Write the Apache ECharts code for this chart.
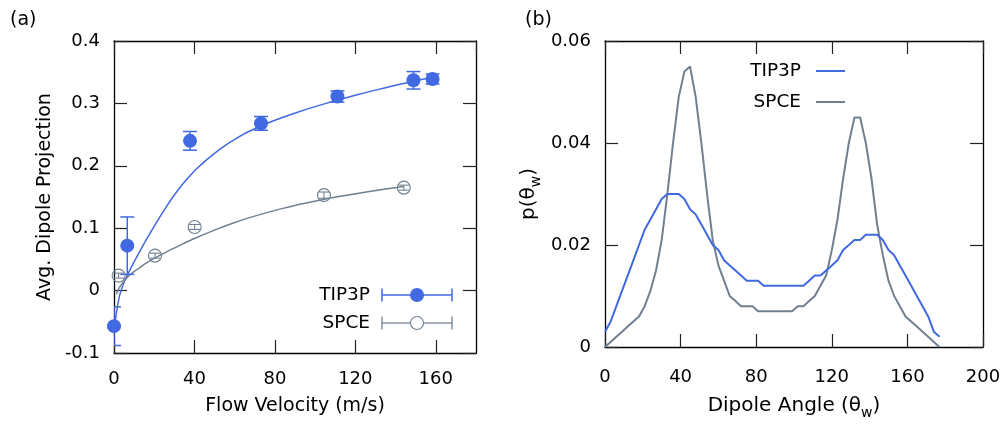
<!DOCTYPE html>
<html>
<head>
<meta charset="utf-8">
<script src="https://cdn.jsdelivr.net/npm/echarts@6/dist/echarts.min.js"></script>
<style>
  html, body { margin: 0; padding: 0; background: #fff; }
  #chart { width: 1005px; height: 424px; }
</style>
</head>
<body>
<div id="chart"></div>
<script>
// (a) average dipole projection vs. flow velocity, with error bars
const tip3pVelocity = [0, 6.6, 37.8, 73.1, 111.1, 148.9, 158.4];
const tip3pProjection = [-0.057, 0.072, 0.240, 0.268, 0.311, 0.337, 0.339];
const tip3pError = [0.031, 0.046, 0.015, 0.011, 0.009, 0.014, 0.008];

const spceVelocity = [2.3, 20.4, 40.1, 104.4, 144.1];
const spceProjection = [0.024, 0.056, 0.102, 0.153, 0.165];
const spceError = [0.004, 0.004, 0.004, 0.005, 0.004];

// fitted trend curves
const tip3pFitX = [0.6, 1, 2, 3, 4.5, 6, 8, 10, 12, 15, 18, 22, 26, 30, 34, 38, 42, 46, 50, 55, 60, 67, 75, 83, 92, 100, 110, 120, 130, 140, 149, 158];
const tip3pFitY = [-0.050, -0.040, -0.020, -0.005, 0.009, 0.0205, 0.0337, 0.0461, 0.0581, 0.0755, 0.0923, 0.1139, 0.1343, 0.1532, 0.1700, 0.1848, 0.1980, 0.2096, 0.2200, 0.2318, 0.2423, 0.2549, 0.2665, 0.2765, 0.2866, 0.2948, 0.3043, 0.3131, 0.3213, 0.3290, 0.3355, 0.3416];
const spceFitX = [1.2, 2, 3.7, 6, 7.8, 12, 16, 20.2, 27.6, 34, 40, 50, 59, 67, 76, 84, 92, 104.6, 115, 127, 135, 144];
const spceFitY = [-0.006, 0.001, 0.010, 0.019, 0.025, 0.035, 0.044, 0.052, 0.0645, 0.0745, 0.0835, 0.097, 0.108, 0.1165, 0.1250, 0.1318, 0.1380, 0.1465, 0.1525, 0.1588, 0.1627, 0.1668];

// (b) dipole angle distributions
const dipoleAngle = [0, 3, 6, 9, 12, 15, 18, 21, 24, 27, 30, 33, 36, 39, 42, 45, 48, 51, 54, 57,
  60, 63, 66, 69, 72, 75, 78, 81, 84, 87, 90, 93, 96, 99, 102, 105, 108, 111, 114, 117,
  120, 123, 126, 129, 132, 135, 138, 141, 144, 147, 150, 153, 156, 159, 162, 165, 168, 171, 174, 177];
const tip3pDist = [0.003, 0.005, 0.008, 0.011, 0.014, 0.017, 0.020, 0.023, 0.025, 0.027,
  0.029, 0.030, 0.030, 0.030, 0.029, 0.027, 0.026, 0.024, 0.022, 0.020,
  0.019, 0.017, 0.016, 0.015, 0.014, 0.013, 0.013, 0.013, 0.012, 0.012,
  0.012, 0.012, 0.012, 0.012, 0.012, 0.012, 0.013, 0.014, 0.014, 0.015,
  0.016, 0.017, 0.019, 0.020, 0.021, 0.021, 0.022, 0.022, 0.022, 0.021,
  0.019, 0.018, 0.016, 0.014, 0.012, 0.010, 0.008, 0.006, 0.003, 0.002];
const spceDist = [0.000, 0.001, 0.002, 0.003, 0.004, 0.005, 0.006, 0.008, 0.011, 0.015,
  0.021, 0.030, 0.040, 0.049, 0.054, 0.055, 0.049, 0.040, 0.030, 0.021,
  0.016, 0.013, 0.010, 0.009, 0.008, 0.008, 0.008, 0.007, 0.007, 0.007,
  0.007, 0.007, 0.007, 0.007, 0.008, 0.008, 0.009, 0.010, 0.012, 0.014,
  0.019, 0.025, 0.033, 0.040, 0.045, 0.045, 0.040, 0.033, 0.024, 0.018,
  0.013, 0.010, 0.008, 0.006, 0.005, 0.004, 0.003, 0.002, 0.001, 0.000];

const seriesNames = ['TIP3P', 'SPCE'];
const BLUE = '#4169e1';
const GRAY = '#708090';
const FONT = 'DejaVu Sans';

const zip = (xs, ys) => xs.map((x, i) => [x, ys[i]]);
const zip3 = (xs, ys, es) => xs.map((x, i) => [x, ys[i], es[i]]);

function errorBars(capHalf, color, width) {
  return function (params, api) {
    const x = api.value(0), y = api.value(1), e = api.value(2);
    const hi = api.coord([x, y + e]);
    const lo = api.coord([x, y - e]);
    const style = { stroke: color, lineWidth: width, fill: null };
    return {
      type: 'group',
      children: [
        { type: 'line', shape: { x1: hi[0], y1: hi[1], x2: lo[0], y2: lo[1] }, style },
        { type: 'line', shape: { x1: hi[0] - capHalf, y1: hi[1], x2: hi[0] + capHalf, y2: hi[1] }, style },
        { type: 'line', shape: { x1: lo[0] - capHalf, y1: lo[1], x2: lo[0] + capHalf, y2: lo[1] }, style }
      ]
    };
  };
}

const txt = { color: '#000', fontFamily: FONT, fontSize: 18 };
const titleTxt = { color: '#000', fontFamily: FONT, fontSize: 19 };
const subRich = {
  t: { color: '#000', fontFamily: FONT, fontSize: 20, lineHeight: 28 },
  s: { color: '#000', fontFamily: FONT, fontSize: 14, lineHeight: 21, verticalAlign: 'bottom' }
};

function frameAxis(extra) {
  return Object.assign({
    type: 'value',
    splitLine: { show: false },
    axisLine: { show: true, onZero: false, lineStyle: { color: '#000', width: 1.3 } },
    axisTick: { show: true, inside: true, length: 13, lineStyle: { color: '#222', width: 1.2 } },
    axisLabel: { show: false }
  }, extra);
}

const fmt1 = v => (Math.abs(v) < 1e-9 ? '0' : String(Math.round(v * 10) / 10));
const fmt2 = v => (Math.abs(v) < 1e-9 ? '0' : String(Math.round(v * 100) / 100));

const option = {
  animation: false,
  grid: [
    { left: 114, top: 41, width: 362, height: 312, outerBoundsMode: 'none' },
    { left: 605, top: 41, width: 378, height: 306, outerBoundsMode: 'none' }
  ],
  xAxis: [
    frameAxis({
      gridIndex: 0, position: 'bottom', min: 0, max: 180, interval: 40,
      axisLabel: { show: true, margin: 17, showMaxLabel: false, ...txt },
      name: 'Flow Velocity (m/s)', nameLocation: 'middle', nameGap: 44, nameTextStyle: titleTxt
    }),
    frameAxis({ gridIndex: 0, position: 'top', min: 0, max: 180, interval: 40 }),
    frameAxis({
      gridIndex: 1, position: 'bottom', min: 0, max: 200, interval: 40,
      axisLabel: { show: true, margin: 21, ...txt },
      name: '{t|Dipole Angle (θ}{s|w}{t|)}', nameLocation: 'middle', nameGap: 45,
      nameTextStyle: { rich: subRich }
    }),
    frameAxis({ gridIndex: 1, position: 'top', min: 0, max: 200, interval: 40 })
  ],
  yAxis: [
    frameAxis({
      gridIndex: 0, position: 'left', min: -0.1, max: 0.4, interval: 0.1,
      axisLabel: { show: true, margin: 14, formatter: fmt1, ...txt },
      name: 'Avg. Dipole Projection', nameLocation: 'middle', nameGap: 59, nameRotate: 90,
      nameTextStyle: titleTxt
    }),
    frameAxis({ gridIndex: 0, position: 'right', min: -0.1, max: 0.4, interval: 0.1 }),
    frameAxis({
      gridIndex: 1, position: 'left', min: 0, max: 0.06, interval: 0.02,
      axisLabel: { show: true, margin: 14, formatter: fmt2, ...txt },
      name: '{t|p(θ}{s|w}{t|)}', nameLocation: 'middle', nameGap: 62, nameRotate: 90,
      nameTextStyle: { rich: subRich }
    }),
    frameAxis({ gridIndex: 1, position: 'right', min: 0, max: 0.06, interval: 0.02 })
  ],
  series: [
    // fitted curves
    {
      type: 'line', name: seriesNames[0] + ' fit', xAxisIndex: 0, yAxisIndex: 0,
      data: zip(tip3pFitX, tip3pFitY), showSymbol: false, smooth: 0.3,
      lineStyle: { color: BLUE, width: 1.5 }, z: 2
    },
    {
      type: 'line', name: seriesNames[1] + ' fit', xAxisIndex: 0, yAxisIndex: 0,
      data: zip(spceFitX, spceFitY), showSymbol: false, smooth: 0.3,
      lineStyle: { color: GRAY, width: 1.5 }, z: 2
    },
    // error bars
    {
      type: 'custom', xAxisIndex: 0, yAxisIndex: 0, clip: true,
      data: zip3(tip3pVelocity, tip3pProjection, tip3pError),
      encode: { x: 0, y: 1 }, renderItem: errorBars(7, BLUE, 1.5), z: 3
    },
    {
      type: 'custom', xAxisIndex: 0, yAxisIndex: 0, clip: true,
      data: zip3(spceVelocity, spceProjection, spceError),
      encode: { x: 0, y: 1 }, renderItem: errorBars(5.5, GRAY, 1.1), z: 3
    },
    // data points
    {
      type: 'scatter', name: seriesNames[0], xAxisIndex: 0, yAxisIndex: 0, clip: false,
      data: zip(tip3pVelocity, tip3pProjection), symbol: 'circle', symbolSize: 14,
      itemStyle: { color: BLUE, opacity: 1 }, z: 4
    },
    {
      type: 'scatter', name: seriesNames[1], xAxisIndex: 0, yAxisIndex: 0, clip: false,
      data: zip(spceVelocity, spceProjection), symbol: 'circle', symbolSize: 13,
      itemStyle: { color: 'rgba(0,0,0,0)', borderColor: GRAY, borderWidth: 1.1, opacity: 1 }, z: 4
    },
    // angle distributions
    {
      type: 'line', name: seriesNames[0], xAxisIndex: 2, yAxisIndex: 2,
      data: zip(dipoleAngle, tip3pDist), showSymbol: false,
      lineStyle: { color: BLUE, width: 2 }, z: 3
    },
    {
      type: 'line', name: seriesNames[1], xAxisIndex: 2, yAxisIndex: 2,
      data: zip(dipoleAngle, spceDist), showSymbol: false,
      lineStyle: { color: GRAY, width: 2 }, z: 2
    }
  ],
  graphic: [
    { type: 'text', style: { text: '(a)', x: 10, y: 20, align: 'left', verticalAlign: 'middle', font: '19px "DejaVu Sans"', fill: '#000' } },
    { type: 'text', style: { text: '(b)', x: 525, y: 20, align: 'left', verticalAlign: 'middle', font: '19px "DejaVu Sans"', fill: '#000' } },

    // key for panel (a)
    { type: 'text', z: 10, style: { text: seriesNames[0], x: 370, y: 295, align: 'right', verticalAlign: 'middle', font: '18.5px "DejaVu Sans"', fill: '#000' } },
    { type: 'line', z: 10, shape: { x1: 382, y1: 295, x2: 452, y2: 295 }, style: { stroke: BLUE, lineWidth: 1.5 } },
    { type: 'line', z: 10, shape: { x1: 382, y1: 288.5, x2: 382, y2: 301.5 }, style: { stroke: BLUE, lineWidth: 1.5 } },
    { type: 'line', z: 10, shape: { x1: 452, y1: 288.5, x2: 452, y2: 301.5 }, style: { stroke: BLUE, lineWidth: 1.5 } },
    { type: 'circle', z: 11, shape: { cx: 417, cy: 295, r: 7 }, style: { fill: BLUE } },

    { type: 'text', z: 10, style: { text: seriesNames[1], x: 370, y: 323, align: 'right', verticalAlign: 'middle', font: '18.5px "DejaVu Sans"', fill: '#000' } },
    { type: 'line', z: 10, shape: { x1: 382, y1: 323, x2: 410.5, y2: 323 }, style: { stroke: GRAY, lineWidth: 1.3 } },
    { type: 'line', z: 10, shape: { x1: 423.5, y1: 323, x2: 452, y2: 323 }, style: { stroke: GRAY, lineWidth: 1.3 } },
    { type: 'line', z: 10, shape: { x1: 382, y1: 316.5, x2: 382, y2: 329.5 }, style: { stroke: GRAY, lineWidth: 1.3 } },
    { type: 'line', z: 10, shape: { x1: 452, y1: 316.5, x2: 452, y2: 329.5 }, style: { stroke: GRAY, lineWidth: 1.3 } },
    { type: 'circle', z: 11, shape: { cx: 417, cy: 323, r: 6.5 }, style: { fill: null, stroke: GRAY, lineWidth: 1.1 } },

    // key for panel (b)
    { type: 'text', z: 10, style: { text: seriesNames[0], x: 801, y: 71, align: 'right', verticalAlign: 'middle', font: '18.5px "DejaVu Sans"', fill: '#000' } },
    { type: 'line', z: 10, shape: { x1: 816, y1: 71, x2: 845, y2: 71 }, style: { stroke: BLUE, lineWidth: 2 } },
    { type: 'text', z: 10, style: { text: seriesNames[1], x: 801, y: 102, align: 'right', verticalAlign: 'middle', font: '18.5px "DejaVu Sans"', fill: '#000' } },
    { type: 'line', z: 10, shape: { x1: 816, y1: 102, x2: 845, y2: 102 }, style: { stroke: GRAY, lineWidth: 2 } }
  ]
};

const chart = echarts.init(document.getElementById('chart'), null, { renderer: 'canvas' });
chart.setOption(option);
</script>
</body>
</html>
